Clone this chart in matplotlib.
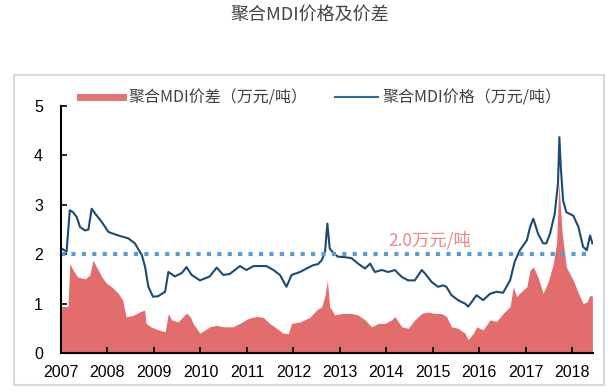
import matplotlib.pyplot as plt
from matplotlib.lines import Line2D
from matplotlib.patches import Rectangle

plt.rcParams['font.family'] = ['Liberation Sans', 'Noto Sans CJK SC', 'DejaVu Sans']

# MDI price (10k yuan / ton)
price_t = [2007.01, 2007.12, 2007.19, 2007.26, 2007.34, 2007.41, 2007.52, 2007.59, 2007.66, 2007.73,
           2007.88, 2008.02, 2008.23, 2008.45, 2008.59, 2008.74, 2008.81, 2008.88, 2008.98, 2009.09,
           2009.24, 2009.31, 2009.45, 2009.60, 2009.70, 2009.81, 2009.99, 2010.20, 2010.35, 2010.49,
           2010.63, 2010.85, 2010.99, 2011.14, 2011.42, 2011.57, 2011.71, 2011.85, 2011.96, 2012.14,
           2012.28, 2012.43, 2012.53, 2012.61, 2012.68, 2012.73, 2012.78, 2012.86, 2012.96, 2013.11,
           2013.25, 2013.39, 2013.54, 2013.65, 2013.75, 2013.90, 2014.04, 2014.18, 2014.33, 2014.47,
           2014.61, 2014.76, 2014.83, 2014.97, 2015.11, 2015.22, 2015.29, 2015.40, 2015.54, 2015.69,
           2015.76, 2015.94, 2016.08, 2016.23, 2016.37, 2016.51, 2016.66, 2016.76, 2016.87, 2017.02,
           2017.09, 2017.16, 2017.26, 2017.37, 2017.44, 2017.52, 2017.62, 2017.69, 2017.72, 2017.75,
           2017.80, 2017.87, 2018.02, 2018.13, 2018.23, 2018.31, 2018.38, 2018.43]
price = [2.12, 2.05, 2.89, 2.85, 2.75, 2.55, 2.48, 2.50, 2.92, 2.83,
         2.65, 2.45, 2.38, 2.32, 2.22, 1.98, 1.74, 1.34, 1.14, 1.15,
         1.24, 1.64, 1.55, 1.62, 1.74, 1.58, 1.47, 1.55, 1.73, 1.58,
         1.60, 1.76, 1.68, 1.76, 1.76, 1.68, 1.58, 1.34, 1.58, 1.64,
         1.71, 1.78, 1.80, 1.88, 2.05, 2.62, 2.12, 2.02, 1.95, 1.94,
         1.92, 1.81, 1.71, 1.81, 1.64, 1.68, 1.64, 1.68, 1.54, 1.47,
         1.47, 1.68, 1.61, 1.44, 1.34, 1.37, 1.34, 1.17, 1.07, 1.00,
         0.94, 1.17, 1.07, 1.20, 1.24, 1.22, 1.47, 1.85, 2.08, 2.28,
         2.55, 2.72, 2.42, 2.22, 2.22, 2.42, 2.82, 3.43, 4.37, 3.77,
         3.09, 2.85, 2.78, 2.55, 2.15, 2.08, 2.38, 2.22]

# MDI spread (10k yuan / ton)
spread_t = [2007.01, 2007.15, 2007.19, 2007.26, 2007.36, 2007.52, 2007.62, 2007.69, 2007.76, 2007.88,
            2007.98, 2008.09, 2008.23, 2008.33, 2008.40, 2008.55, 2008.69, 2008.80, 2008.83, 2008.93,
            2009.09, 2009.24, 2009.31, 2009.38, 2009.52, 2009.70, 2009.79, 2009.84, 2009.99, 2010.20,
            2010.35, 2010.49, 2010.70, 2010.85, 2011.03, 2011.21, 2011.35, 2011.49, 2011.64, 2011.78,
            2011.89, 2011.96, 2012.14, 2012.35, 2012.50, 2012.61, 2012.68, 2012.73, 2012.78, 2012.89,
            2013.04, 2013.25, 2013.39, 2013.54, 2013.68, 2013.83, 2013.97, 2014.11, 2014.18, 2014.33,
            2014.47, 2014.61, 2014.76, 2014.90, 2015.04, 2015.18, 2015.29, 2015.40, 2015.54, 2015.69,
            2015.76, 2015.87, 2015.94, 2016.08, 2016.23, 2016.37, 2016.51, 2016.66, 2016.73, 2016.80,
            2016.90, 2017.02, 2017.09, 2017.16, 2017.26, 2017.37, 2017.48, 2017.59, 2017.66, 2017.71,
            2017.78, 2017.87, 2018.02, 2018.13, 2018.23, 2018.31, 2018.38, 2018.43]
spread = [0.94, 0.94, 1.81, 1.68, 1.54, 1.50, 1.58, 1.88, 1.75, 1.54,
          1.41, 1.34, 1.21, 1.07, 0.73, 0.76, 0.83, 0.87, 0.60, 0.53,
          0.47, 0.43, 0.80, 0.67, 0.63, 0.81, 0.72, 0.60, 0.40, 0.53,
          0.56, 0.53, 0.53, 0.60, 0.70, 0.74, 0.72, 0.60, 0.50, 0.40,
          0.39, 0.60, 0.63, 0.72, 0.87, 0.94, 1.17, 1.47, 0.94, 0.77,
          0.80, 0.80, 0.77, 0.67, 0.53, 0.60, 0.60, 0.67, 0.74, 0.53,
          0.50, 0.67, 0.80, 0.83, 0.80, 0.80, 0.74, 0.53, 0.50, 0.40,
          0.27, 0.40, 0.53, 0.47, 0.67, 0.64, 0.80, 0.94, 1.34, 1.14,
          1.24, 1.34, 1.68, 1.74, 1.54, 1.21, 1.44, 1.81, 2.22, 3.45,
          2.42, 1.74, 1.47, 1.21, 1.00, 1.03, 1.17, 1.15]

years = list(range(2007, 2019))
threshold = 2.0
threshold_label = '2.0万元/吨'
title = '聚合MDI价格及价差'
spread_name = '聚合MDI价差（万元/吨）'
price_name = '聚合MDI价格（万元/吨）'

red = '#e36c6c'
navy = '#1c4a74'
dotblue = '#5b9bd5'
cjk = ['Noto Sans CJK SC', 'DejaVu Sans']

fig = plt.figure(figsize=(6.14, 3.92), dpi=100)
ax = fig.add_axes([0.0993, 0.0995, 0.867, 0.630])

# light grey frame round the chart
fig.patches.append(Rectangle((0.023, 0.018), 0.960, 0.790, transform=fig.transFigure,
                             fill=False, edgecolor='#d9d9d9', linewidth=1.5))

ax.fill_between(spread_t, spread, 0, color=red, linewidth=0)
ax.plot(price_t, price, color=navy, linewidth=1.5)
ax.axhline(threshold, color=dotblue, linewidth=3, linestyle=(0, (1, 1.5)),
           dash_capstyle='butt', xmax=0.995)
ax.text(2014.04, 2.28, threshold_label, color='#e8888a', fontsize=12.5,
        family=cjk, va='center')

ax.set_xlim(2007, 2018.45)
ax.set_ylim(0, 5)
ax.set_xticks(years)
ax.set_xticklabels([str(y) for y in years])
ax.set_yticks([0, 1, 2, 3, 4, 5])
ax.tick_params(axis='both', direction='in', length=4, width=1.2, labelsize=11.5, colors='black')
ax.tick_params(axis='y', pad=13)
ax.tick_params(axis='x', pad=9)
for s in ['top', 'right']:
    ax.spines[s].set_visible(False)
for s in ['left', 'bottom']:
    ax.spines[s].set_linewidth(1.5)

handles = [Line2D([], [], color='#e57373', linewidth=5),
           Line2D([], [], color='#2f6a9a', linewidth=1.5)]
leg = ax.legend(handles, [spread_name, price_name], loc='center left',
                bbox_to_anchor=(0.036, 1.032), ncol=2, frameon=False,
                prop={'family': cjk, 'size': 11.5},
                handlelength=2.7, handletextpad=0.3, columnspacing=1.75,
                borderpad=0, borderaxespad=0)
for t in leg.get_texts():
    t.set_color('#404040')

fig.text(0.505, 0.962, title, ha='center', va='center', fontsize=13,
         color='#444444', family=cjk)

fig.savefig('out.png', dpi=100, facecolor='white')
